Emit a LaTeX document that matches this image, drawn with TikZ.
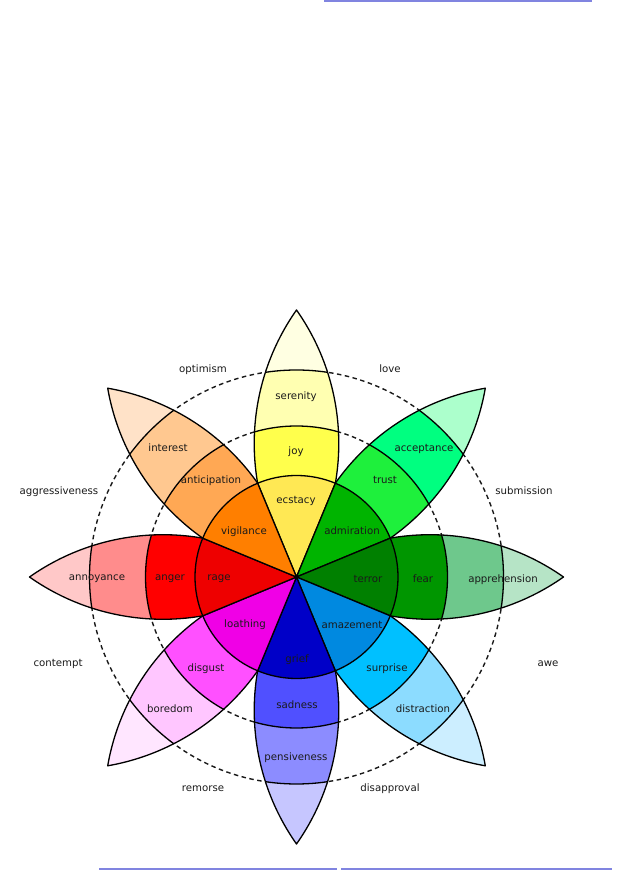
\documentclass[tikz,border=0pt]{standalone}
\usepackage{fontspec}
\setmainfont{DejaVu Sans}
\definecolor{cEcst}{HTML}{FFE854}
\definecolor{cJoy}{HTML}{FFFF4C}
\definecolor{cSer}{HTML}{FFFFB1}
\definecolor{cJoyT}{HTML}{FFFFE2}
\definecolor{cAdm}{HTML}{00B400}
\definecolor{cTru}{HTML}{1EF03C}
\definecolor{cAcc}{HTML}{00FF80}
\definecolor{cTruT}{HTML}{ACFFCC}
\definecolor{cTer}{HTML}{008000}
\definecolor{cFea}{HTML}{009600}
\definecolor{cApp}{HTML}{6EC88C}
\definecolor{cFeaT}{HTML}{B6E4C6}
\definecolor{cAma}{HTML}{0089E0}
\definecolor{cSur}{HTML}{00C0FF}
\definecolor{cDis}{HTML}{8CDCFF}
\definecolor{cSurT}{HTML}{CCEEFF}
\definecolor{cGri}{HTML}{0000C8}
\definecolor{cSad}{HTML}{5050FF}
\definecolor{cPen}{HTML}{8C8CFF}
\definecolor{cSadT}{HTML}{C6C6FF}
\definecolor{cLoa}{HTML}{F000E6}
\definecolor{cDsg}{HTML}{FF50FF}
\definecolor{cBor}{HTML}{FFC6FF}
\definecolor{cDsgT}{HTML}{FFE6FF}
\definecolor{cRag}{HTML}{EE0000}
\definecolor{cAng}{HTML}{FF0000}
\definecolor{cAnn}{HTML}{FF8C8C}
\definecolor{cAngT}{HTML}{FFC8C8}
\definecolor{cVig}{HTML}{FF7F00}
\definecolor{cAnt}{HTML}{FFA854}
\definecolor{cInt}{HTML}{FFC890}
\definecolor{cAntT}{HTML}{FFE2C8}
\definecolor{cRule}{HTML}{8084E0}
\definecolor{cTxt}{HTML}{1A1A1A}
\tikzset{
  outl/.style={draw=black, line width=1.3pt, line join=round},
  dashring/.style={draw=black!90, line width=1.4pt, dash pattern=on 4.5pt off 3.5pt},
  lab/.style={anchor=base, yshift=-2.8pt, text=cTxt, inner sep=0pt, font=\fontsize{10.2}{12}\selectfont},
  rulebar/.style={draw=cRule, line width=2pt}
}
\newcommand\drawpetal[4]{%
\begin{scope}[shift={(O)},rotate=#1]
\begin{scope}
\clip (267pt,0pt) arc[start angle=54.86,end angle=125.14,radius=232pt] arc[start angle=-125.14,end angle=-54.86,radius=232pt] -- cycle;
\fill[#4] (0pt,0pt) circle[radius=280pt];
\fill[#3] (0pt,0pt) circle[radius=207pt];
\fill[#2] (0pt,0pt) circle[radius=151pt];
\draw[outl] (0pt,0pt) circle[radius=151pt] (0pt,0pt) circle[radius=207pt];
\end{scope}
\draw[outl] (267pt,0pt) arc[start angle=54.86,end angle=125.14,radius=232pt] arc[start angle=-125.14,end angle=-54.86,radius=232pt] -- cycle;
\end{scope}}
\newcommand\drawcore[2]{%
\begin{scope}[shift={(O)},rotate=#1]
\filldraw[outl,fill=#2] (0pt,0pt) -- (-22.5:101.5pt) arc[start angle=-22.5,end angle=22.5,radius=101.5pt] -- cycle;
\end{scope}}
\begin{document}
\begin{tikzpicture}[x=1pt,y=1pt]
\useasboundingbox (0,0) rectangle (620,870);
\coordinate (O) at (296.5,293);
\coordinate (topL) at (324,869);
\coordinate (topR) at (592,869);
\coordinate (botA) at (99,1);
\coordinate (botB) at (337,1);
\coordinate (botC) at (341,1);
\coordinate (botD) at (612,1);
\draw[rulebar] (topL) -- (topR);
\draw[rulebar,line width=1.5pt] (botA) -- (botB);
\draw[rulebar,line width=1.5pt] (botC) -- (botD);
% dashed rings
\draw[dashring] (O) circle[radius=151pt];
\draw[dashring] (O) circle[radius=207pt];
% petals
\drawpetal{90}{cJoy}{cSer}{cJoyT}
\drawpetal{45}{cTru}{cAcc}{cTruT}
\drawpetal{0}{cFea}{cApp}{cFeaT}
\drawpetal{-45}{cSur}{cDis}{cSurT}
\drawpetal{-90}{cSad}{cPen}{cSadT}
\drawpetal{-135}{cDsg}{cBor}{cDsgT}
\drawpetal{180}{cAng}{cAnn}{cAngT}
\drawpetal{135}{cAnt}{cInt}{cAntT}
% cores
\drawcore{90}{cEcst}
\drawcore{45}{cAdm}
\drawcore{0}{cTer}
\drawcore{-45}{cAma}
\drawcore{-90}{cGri}
\drawcore{-135}{cLoa}
\drawcore{180}{cRag}
\drawcore{135}{cVig}
% labels: inner
\node[lab] (ecstacy) at (296,369) {ecstacy};
\node[lab] (admiration) at (352,338) {admiration};
\node[lab] (terror) at (368,290) {terror};
\node[lab] (amazement) at (352,244) {amazement};
\node[lab] (grief) at (297,210) {grief};
\node[lab] (loathing) at (245,245) {loathing};
\node[lab] (rage) at (219,292) {rage};
\node[lab] (vigilance) at (244,338) {vigilance};
% ring 2
\node[lab] (joy) at (296,418) {joy};
\node[lab] (trust) at (385,389) {trust};
\node[lab] (fear) at (423,290) {fear};
\node[lab] (surprise) at (387,201) {surprise};
\node[lab] (sadness) at (297,164) {sadness};
\node[lab] (disgust) at (206,201) {disgust};
\node[lab] (anger) at (170,292) {anger};
\node[lab] (anticipation) at (211,389) {anticipation};
% ring 3
\node[lab] (serenity) at (296,473) {serenity};
\node[lab] (acceptance) at (424,421) {acceptance};
\node[lab] (apprehension) at (503,290) {apprehension};
\node[lab] (distraction) at (423,160) {distraction};
\node[lab] (pensiveness) at (296,112) {pensiveness};
\node[lab] (boredom) at (170,160) {boredom};
\node[lab] (annoyance) at (97,292) {annoyance};
\node[lab] (interest) at (168,421) {interest};
% outside
\node[lab] (optimism) at (203,500) {optimism};
\node[lab] (love) at (390,500) {love};
\node[lab] (submission) at (524,378) {submission};
\node[lab] (awe) at (548,206) {awe};
\node[lab] (disapproval) at (390,81) {disapproval};
\node[lab] (remorse) at (203,81) {remorse};
\node[lab] (contempt) at (58,206) {contempt};
\node[lab] (aggressiveness) at (59,378) {aggressiveness};
\end{tikzpicture}
\end{document}
